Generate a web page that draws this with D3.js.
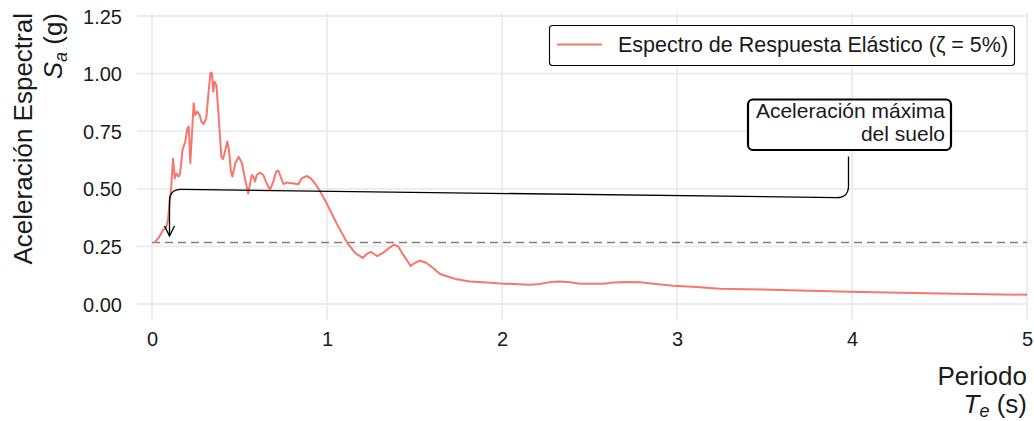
<!DOCTYPE html>
<html>
<head>
<meta charset="utf-8">
<script src="https://cdn.jsdelivr.net/npm/d3@7"></script>
<style>
  html, body { margin: 0; padding: 0; background: #fff; }
  svg text { font-family: "Liberation Sans", Arial, sans-serif; fill: #1a1a1a; }
</style>
</head>
<body>
<svg id="chart" width="1034" height="421"></svg>
<script>
// Elastic response spectrum (5% damping): period T (s) and spectral acceleration Sa (g)
const periods = [
  0.015, 0.04, 0.063, 0.082, 0.091, 0.11, 0.12, 0.13, 0.139, 0.152, 0.16, 0.175,
  0.19, 0.202, 0.21, 0.219, 0.238, 0.247, 0.259, 0.272, 0.282, 0.295, 0.31, 0.326,
  0.335, 0.343, 0.35, 0.358, 0.368, 0.381, 0.396, 0.406, 0.419, 0.43, 0.44, 0.45,
  0.459, 0.476, 0.495, 0.514, 0.533, 0.55, 0.57, 0.579, 0.589, 0.598, 0.617, 0.636,
  0.655, 0.674, 0.693, 0.709, 0.722, 0.735, 0.75, 0.77, 0.798, 0.836, 0.855, 0.884,
  0.907, 0.931, 0.96, 0.998, 1.017, 1.055, 1.112, 1.16, 1.204, 1.227, 1.25, 1.269,
  1.288, 1.322, 1.36, 1.383, 1.407, 1.436, 1.478, 1.503, 1.531, 1.566, 1.608, 1.646,
  1.703, 1.741, 1.817, 1.913, 1.989, 2.16, 2.217, 2.274, 2.331, 2.389, 2.446, 2.579,
  2.636, 2.712, 2.789, 2.865, 2.979, 3.112, 3.246, 3.398, 3.589, 3.989, 4.5, 5.0
];
const saValues = [
  0.266, 0.29, 0.32, 0.335, 0.365, 0.509, 0.632, 0.545, 0.567, 0.553, 0.565, 0.67,
  0.705, 0.762, 0.77, 0.611, 0.871, 0.82, 0.835, 0.82, 0.791, 0.781, 0.806, 0.943,
  1.004, 1.001, 0.921, 0.965, 0.95, 0.813, 0.639, 0.629, 0.668, 0.705, 0.668, 0.582,
  0.553, 0.611, 0.639, 0.611, 0.538, 0.48, 0.56, 0.553, 0.531, 0.56, 0.57, 0.56,
  0.524, 0.495, 0.531, 0.574, 0.579, 0.553, 0.521, 0.527, 0.524, 0.52, 0.545, 0.556,
  0.545, 0.524, 0.49, 0.437, 0.408, 0.35, 0.27, 0.222, 0.2, 0.217, 0.226, 0.217,
  0.208, 0.223, 0.246, 0.258, 0.249, 0.213, 0.165, 0.179, 0.188, 0.179, 0.155, 0.13,
  0.116, 0.107, 0.098, 0.093, 0.089, 0.084, 0.087, 0.095, 0.098, 0.094, 0.088, 0.088,
  0.093, 0.095, 0.094, 0.088, 0.079, 0.074, 0.066, 0.064, 0.061, 0.053, 0.046, 0.04
];

// Peak ground acceleration (g) and the period range of its reference line
const pga = 0.267;
const pgaRange = [0, 5];

// Axis ticks
const xTicks = [0, 1, 2, 3, 4, 5];
const yTicks = [0, 0.25, 0.5, 0.75, 1.0, 1.25];

// Callout path (T, Sa): from under the label box to the PGA level
const calloutPath = [[3.98, 0.64], [3.98, 0.461], [0.10, 0.498], [0.10, 0.295]];
const calloutLines = ["Aceleración máxima", "del suelo"];
const legendLabel = "Espectro de Respuesta Elástico (ζ = 5%)";

const lineColor = "#F8766D";
const svg = d3.select("#chart");

// Scales
const x = d3.scaleLinear().domain([0, 5]).range([152, 1027]);
const y = d3.scaleLinear().domain([0, 1.25]).range([304, 16]);
const panel = { left: 137, right: 1028, top: 13, bottom: 320 };

// Grid
const grid = svg.append("g");
grid.selectAll("line.gy").data(yTicks).join("line")
  .attr("x1", panel.left).attr("x2", panel.right)
  .attr("y1", d => y(d)).attr("y2", d => y(d))
  .attr("stroke", "#ebebeb").attr("stroke-width", 1.8);
grid.selectAll("line.gx").data(xTicks).join("line")
  .attr("x1", d => x(d)).attr("x2", d => x(d))
  .attr("y1", panel.top).attr("y2", panel.bottom)
  .attr("stroke", "#ebebeb").attr("stroke-width", 1.8);

// Axes (labels only)
const yAxis = d3.axisLeft(y).tickValues(yTicks).tickFormat(d3.format(".2f")).tickSize(0).tickPadding(0);
const gy = svg.append("g").attr("transform", "translate(122,0)").call(yAxis);
gy.select(".domain").remove();
gy.selectAll("text").attr("font-size", 20).attr("fill", "#333").attr("dy", "0.35em")
  .style("font-family", "'Liberation Sans', Arial, sans-serif");

const xAxis = d3.axisBottom(x).tickValues(xTicks).tickFormat(d3.format("d")).tickSize(0).tickPadding(0);
const gx = svg.append("g").attr("transform", "translate(0,332)").call(xAxis);
gx.select(".domain").remove();
gx.selectAll("text").attr("font-size", 20).attr("fill", "#333").attr("dy", "0.71em")
  .style("font-family", "'Liberation Sans', Arial, sans-serif");

// PGA reference line
svg.append("line")
  .attr("x1", x(pgaRange[0])).attr("x2", x(pgaRange[1]))
  .attr("y1", y(pga)).attr("y2", y(pga))
  .attr("stroke", "#7f7f7f").attr("stroke-width", 1.6)
  .attr("stroke-dasharray", "8,5");

// Spectrum
const data = periods.map((t, i) => ({ t, sa: saValues[i] }));
svg.append("path").datum(data)
  .attr("fill", "none").attr("stroke", lineColor).attr("stroke-width", 2)
  .attr("stroke-linejoin", "round")
  .attr("d", d3.line().x(d => x(d.t)).y(d => y(d.sa)));

// Callout: path with rounded corners and an open arrowhead
(function () {
  const p = calloutPath.map(([t, s]) => [x(t), y(s)]);
  const r = 12;
  function toward(a, b, dist) {
    const dx = b[0] - a[0], dy = b[1] - a[1];
    const L = Math.hypot(dx, dy);
    return [a[0] + dx / L * dist, a[1] + dy / L * dist];
  }
  let d = `M${p[0][0]},${p[0][1]}`;
  for (let i = 1; i < p.length - 1; i++) {
    const a = toward(p[i], p[i - 1], r);
    const b = toward(p[i], p[i + 1], r);
    d += `L${a[0]},${a[1]}Q${p[i][0]},${p[i][1]} ${b[0]},${b[1]}`;
  }
  const end = p[p.length - 1];
  d += `L${end[0]},${end[1]}`;
  svg.append("path").attr("d", d).attr("fill", "none")
    .attr("stroke", "#000").attr("stroke-width", 1.3);
  svg.append("path")
    .attr("d", `M${end[0] - 5},${end[1] - 10}L${end[0]},${end[1]}L${end[0] + 5},${end[1] - 10}`)
    .attr("fill", "none").attr("stroke", "#000").attr("stroke-width", 1.3);

  // Label box
  svg.append("rect")
    .attr("x", 748).attr("y", 99.5).attr("width", 203).attr("height", 50.5)
    .attr("rx", 5).attr("fill", "#fff").attr("stroke", "#000").attr("stroke-width", 2.2);
  svg.append("text").attr("text-anchor", "end").attr("font-size", 21)
    .selectAll("tspan").data(calloutLines).join("tspan")
    .attr("x", 945).attr("y", (d, i) => 118 + i * 23).text(d => d);
})();

// Legend
const leg = svg.append("g");
leg.append("rect").attr("x", 549.5).attr("y", 25.5).attr("width", 465).attr("height", 40)
  .attr("rx", 3).attr("fill", "#fff").attr("stroke", "#000").attr("stroke-width", 1.1);
leg.append("line").attr("x1", 557).attr("x2", 602).attr("y1", 44.5).attr("y2", 44.5)
  .attr("stroke", lineColor).attr("stroke-width", 2);
leg.append("text").attr("x", 618).attr("y", 52).attr("font-size", 21.5).text(legendLabel);

// Axis titles
const yt = svg.append("text").attr("transform", "translate(32,13) rotate(-90)")
  .attr("text-anchor", "end").attr("font-size", 26);
yt.append("tspan").attr("x", 0).attr("y", 0).text("Aceleración Espectral");
const yt2 = svg.append("text").attr("transform", "translate(62,13) rotate(-90)")
  .attr("text-anchor", "end").attr("font-size", 26);
yt2.append("tspan").attr("font-style", "italic").text("S");
yt2.append("tspan").attr("font-style", "italic").attr("font-size", 18).attr("dy", 5).text("a");
yt2.append("tspan").attr("dy", -5).text(" (g)");

svg.append("text").attr("x", 1027).attr("y", 385).attr("text-anchor", "end")
  .attr("font-size", 26).text("Periodo");
const xt2 = svg.append("text").attr("x", 1027).attr("y", 413).attr("text-anchor", "end")
  .attr("font-size", 26);
xt2.append("tspan").attr("font-style", "italic").text("T");
xt2.append("tspan").attr("font-style", "italic").attr("font-size", 18).attr("dy", 4).text("e");
xt2.append("tspan").attr("dy", -4).text(" (s)");
</script>
</body>
</html>
